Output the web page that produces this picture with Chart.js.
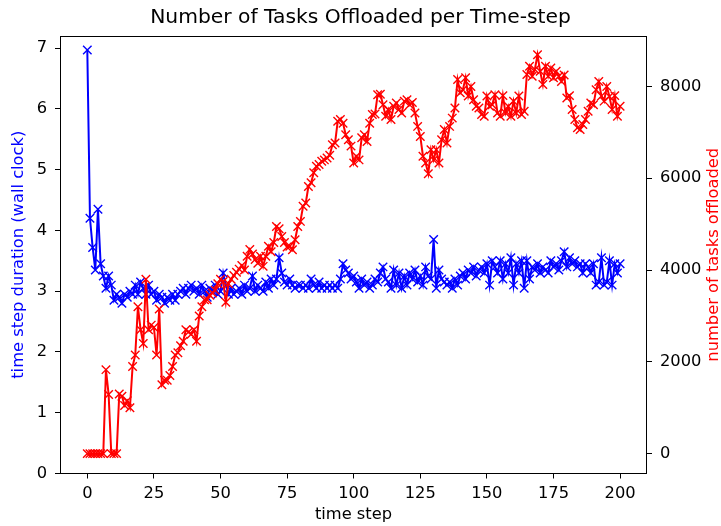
<!DOCTYPE html>
<html>
<head>
<meta charset="utf-8">
<script src="https://cdn.jsdelivr.net/npm/chart.js@4/dist/chart.umd.min.js"></script>
<style>
html,body{margin:0;padding:0;background:#fff;}
canvas{display:block;}
</style>
</head>
<body>
<canvas id="c" width="721" height="526"></canvas>
<script>
// ---- data ----
const chartTitle = 'Number of Tasks Offloaded per Time-step';
const xAxisTitle = 'time step';
const leftAxisTitle = 'time step duration (wall clock)';
const rightAxisTitle = 'number of tasks offloaded';

const xTickValues = [0, 25, 50, 75, 100, 125, 150, 175, 200];
const leftTickValues = [0, 1, 2, 3, 4, 5, 6, 7];
const rightTickValues = [0, 2000, 4000, 6000, 8000];

const stepDuration = [
  6.97,4.2,3.72,3.35,4.35,3.45,3.25,3.05,3.25,3.1,
  2.85,2.95,2.9,2.8,2.95,2.9,3.0,2.95,3.1,2.95,
  3.15,3.05,2.95,3.1,2.95,3.0,2.85,2.95,2.9,2.8,
  2.9,2.85,2.95,2.85,2.95,3.0,3.05,2.95,3.05,3.1,
  3.0,3.05,2.95,3.1,3.0,2.9,3.05,3.0,3.1,2.95,
  3.0,3.3,3.1,2.95,3.05,2.95,3.0,3.05,2.95,3.1,
  3.0,3.05,3.25,3.0,3.1,3.05,3.0,3.15,3.05,3.2,
  3.1,3.2,3.55,3.3,3.15,3.1,3.2,3.1,3.05,3.1,
  3.1,3.05,3.1,3.05,3.2,3.1,3.05,3.15,3.05,3.1,
  3.05,3.1,3.05,3.1,3.05,3.2,3.45,3.35,3.3,3.2,
  3.25,3.15,3.05,3.2,3.1,3.15,3.05,3.1,3.2,3.15,
  3.3,3.4,3.2,3.15,3.05,3.35,3.1,3.3,3.05,3.25,
  3.1,3.3,3.2,3.35,3.15,3.25,3.1,3.4,3.25,3.2,
  3.85,3.05,3.35,3.2,3.15,3.1,3.15,3.05,3.2,3.1,
  3.25,3.3,3.2,3.35,3.3,3.4,3.25,3.35,3.4,3.3,
  3.45,3.1,3.5,3.4,3.3,3.5,3.2,3.45,3.3,3.55,
  3.1,3.45,3.3,3.5,3.05,3.5,3.2,3.4,3.35,3.45,
  3.3,3.4,3.35,3.3,3.5,3.4,3.45,3.35,3.5,3.65,
  3.4,3.55,3.45,3.5,3.4,3.45,3.3,3.45,3.4,3.3,
  3.45,3.1,3.15,3.55,3.1,3.15,3.5,3.1,3.45,3.3,
  3.45
];

const tasksOffloaded = [
  0,0,0,0,0,0,0,1830,1290,0,
  0,0,1300,1250,1050,1150,1000,1900,2150,3200,
  2700,2400,3800,2700,2800,2750,2150,3150,1500,1600,
  1600,1700,1900,2150,2200,2350,2450,2700,2650,2600,
  2700,2450,3000,3200,3350,3350,3450,3500,3560,3700,
  3800,3750,3300,3700,3800,3880,3950,4020,4100,4000,
  4300,4450,4350,4230,4150,4300,4080,4300,4520,4400,
  4600,4950,4900,4730,4600,4500,4520,4440,4660,4950,
  5060,5390,5460,5820,5900,6120,6260,6300,6370,6400,
  6440,6500,6730,6770,7240,7280,7200,6950,6840,6700,
  6330,6480,6400,6880,6950,6800,7200,7390,7400,7820,
  7830,7600,7350,7500,7280,7570,7640,7500,7420,7680,
  7710,7600,7650,7420,7130,6910,6480,6330,6100,6620,
  6400,6620,6330,6840,7060,6770,7130,7310,7530,8150,
  7860,7930,8190,7790,8000,7710,7570,7530,7390,7350,
  7790,7570,7600,7820,7420,7350,7800,7420,7570,7350,
  7680,7420,7790,7390,7460,8260,8440,8220,8370,8690,
  8330,8040,8440,8220,8400,8190,8330,8220,8110,8250,
  7750,7800,7500,7280,7100,7060,7170,7280,7460,7640,
  7600,7930,8110,7790,7680,8000,7780,7500,7800,7350,
  7570
];

// time step index of each sample
const timeSteps = stepDuration.map((_, i) => i);

// ---- chart ----
const FONT = 'DejaVu Sans';
const tickFont = {family: FONT, size: 16.3};

const framePlugin = {
  id: 'frame',
  afterDatasetsDraw(chart) {
    const {ctx, chartArea: a} = chart;
    ctx.save();
    ctx.strokeStyle = '#000';
    ctx.lineWidth = 1;
    ctx.strokeRect(Math.round(a.left) + 0.5, Math.round(a.top) + 0.5,
                   Math.round(a.right - a.left) - 1, Math.round(a.bottom - a.top) - 1);
    ctx.restore();
  }
};

const rightTitlePlugin = {
  id: 'rightTitle',
  afterDraw(chart) {
    const {ctx, chartArea: a} = chart;
    ctx.save();
    ctx.translate(713.5, (a.top + a.bottom) / 2);
    ctx.rotate(-Math.PI / 2);
    ctx.fillStyle = '#ff0000';
    ctx.font = '16.3px "DejaVu Sans"';
    ctx.textAlign = 'center';
    ctx.textBaseline = 'middle';
    ctx.fillText(rightAxisTitle, 0, 0);
    ctx.restore();
  }
};

const plainTick = v => String(v);

new Chart(document.getElementById('c'), {
  type: 'line',
  data: {
    datasets: [
      {
        label: rightAxisTitle,
        data: timeSteps.map((t, i) => ({x: t, y: tasksOffloaded[i]})),
        yAxisID: 'y2',
        borderColor: '#ff0000',
        backgroundColor: '#ff0000',
        borderWidth: 2,
        pointStyle: 'crossRot',
        pointRadius: 6,
        pointBorderWidth: 1.4,
        pointBorderColor: '#ff0000',
        tension: 0,
        order: 0
      },
      {
        label: leftAxisTitle,
        data: timeSteps.map((t, i) => ({x: t, y: stepDuration[i]})),
        yAxisID: 'y',
        borderColor: '#0000ff',
        backgroundColor: '#0000ff',
        borderWidth: 2,
        pointStyle: 'crossRot',
        pointRadius: 6,
        pointBorderWidth: 1.4,
        pointBorderColor: '#0000ff',
        tension: 0,
        order: 1
      }
    ]
  },
  options: {
    responsive: false,
    animation: false,
    events: [],
    layout: {padding: 0},
    plugins: {
      legend: {display: false},
      tooltip: {enabled: false},
      title: {
        display: true,
        text: chartTitle,
        color: '#000',
        font: {family: FONT, size: 20.3, weight: 'normal'},
        padding: {top: 5.8, bottom: 5.8}
      }
    },
    scales: {
      x: {
        type: 'linear',
        min: -10.25,
        max: 210.1,
        afterBuildTicks(s) { s.ticks = xTickValues.map(v => ({value: v})); },
        afterFit(s) { s.height = 52.5; },
        ticks: {color: '#000', font: tickFont, padding: 5, maxRotation: 0, autoSkip: false, callback: plainTick},
        grid: {display: true, drawOnChartArea: false, drawTicks: true, tickLength: 5, tickColor: '#000', tickWidth: 1},
        border: {display: false},
        title: {display: true, text: xAxisTitle, color: '#000', font: {family: FONT, size: 16.3}, padding: {top: 0, bottom: 1.2}}
      },
      y: {
        position: 'left',
        min: 0,
        max: 7.2,
        afterBuildTicks(s) { s.ticks = leftTickValues.map(v => ({value: v})); },
        afterFit(s) { s.width = 60; },
        ticks: {color: '#000', font: tickFont, padding: 8, autoSkip: false, callback: plainTick},
        grid: {display: true, drawOnChartArea: false, drawTicks: true, tickLength: 5, tickColor: '#000', tickWidth: 1},
        border: {display: false},
        title: {display: true, text: leftAxisTitle, color: '#0000ff', font: {family: FONT, size: 16.3}, padding: {top: 9.2, bottom: 0}}
      },
      y2: {
        position: 'right',
        min: -433,
        max: 9100,
        afterBuildTicks(s) { s.ticks = rightTickValues.map(v => ({value: v})); },
        afterFit(s) { s.width = 74; },
        ticks: {color: '#000', font: tickFont, padding: 8, autoSkip: false, callback: plainTick},
        grid: {display: true, drawOnChartArea: false, drawTicks: true, tickLength: 5, tickColor: '#000', tickWidth: 1},
        border: {display: false}
      }
    }
  },
  plugins: [framePlugin, rightTitlePlugin]
});
</script>
</body>
</html>
